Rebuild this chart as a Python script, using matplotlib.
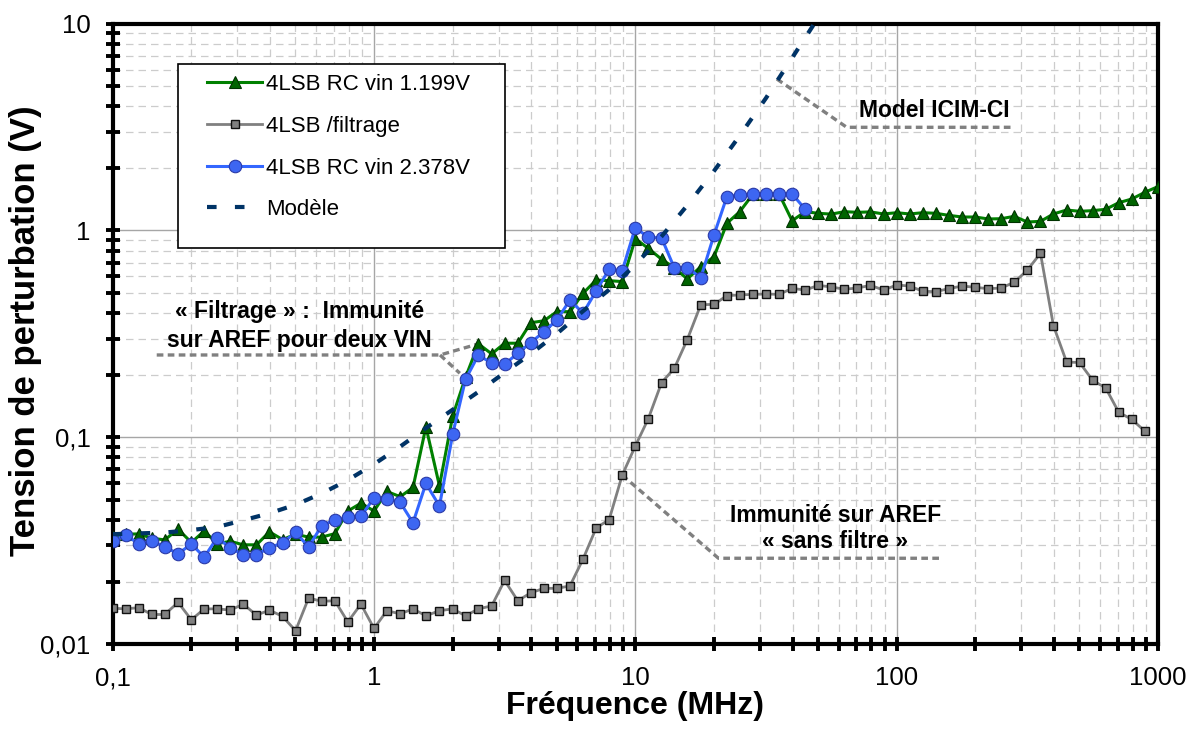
import numpy as np
import matplotlib
matplotlib.use("Agg")
import matplotlib.pyplot as plt
from matplotlib.patches import Rectangle
from matplotlib.ticker import NullFormatter, LogLocator

plt.rcParams['font.family'] = ['Liberation Sans', 'DejaVu Sans']

# test frequencies (MHz), ~12 % steps
freq = [0.1, 0.112, 0.126, 0.141, 0.158, 0.178, 0.2, 0.224, 0.251, 0.282,
        0.316, 0.355, 0.398, 0.447, 0.501, 0.562, 0.631, 0.708, 0.794, 0.891,
        1.0, 1.12, 1.26, 1.41, 1.58, 1.78, 2.0, 2.24, 2.51, 2.82,
        3.16, 3.55, 3.98, 4.47, 5.01, 5.62, 6.31, 7.08, 7.94, 8.91,
        10.0, 11.2, 12.6, 14.1, 15.8, 17.8, 20.0, 22.4, 25.1, 28.2,
        31.6, 35.5, 39.8, 44.7, 50.1, 56.2, 63.1, 70.8, 79.4, 89.1,
        100.0, 112, 126, 141, 158, 178, 200, 224, 251, 282,
        316, 355, 398, 447, 501, 562, 631, 708, 794, 891, 1000]

rc_1199 = [0.033, 0.034, 0.0341, 0.0325, 0.0319, 0.0359, 0.031, 0.0352, 0.0306, 0.0314,
           0.0302, 0.0302, 0.0349, 0.032, 0.034, 0.0329, 0.0329, 0.0342, 0.044, 0.048,
           0.044, 0.0547, 0.0516, 0.0572, 0.1124, 0.0582, 0.1267, 0.195, 0.283, 0.253,
           0.285, 0.285, 0.358, 0.366, 0.405, 0.405, 0.497, 0.576, 0.572, 0.566,
           0.913, 0.82, 0.726, 0.661, 0.583, 0.668, 0.747, 1.083, 1.233, 1.50,
           1.50, 1.50, 1.115, 1.233, 1.211, 1.20, 1.233, 1.224, 1.23, 1.202,
           1.219, 1.202, 1.219, 1.211, 1.184, 1.162, 1.162, 1.137, 1.14, 1.171,
           1.099, 1.107, 1.202, 1.256, 1.238, 1.247, 1.266, 1.363, 1.42, 1.53, 1.63]

sans_filtre = [0.0149, 0.0148, 0.0150, 0.0139, 0.0139, 0.0159, 0.0131, 0.0148, 0.0148, 0.0146,
               0.0156, 0.0138, 0.0146, 0.0136, 0.0116, 0.0167, 0.0161, 0.0162, 0.0128, 0.0156,
               0.0119, 0.0145, 0.0140, 0.0148, 0.0137, 0.0145, 0.0148, 0.0137, 0.0148, 0.0153,
               0.0203, 0.0162, 0.0177, 0.0186, 0.0186, 0.0191, 0.0258, 0.0364, 0.040, 0.0656,
               0.0908, 0.1226, 0.1837, 0.2156, 0.2965, 0.4377, 0.439, 0.484, 0.488, 0.491,
               0.493, 0.491, 0.525, 0.515, 0.543, 0.533, 0.520, 0.527, 0.543, 0.515,
               0.545, 0.539, 0.508, 0.506, 0.523, 0.539, 0.531, 0.523, 0.527, 0.562,
               0.642, 0.776, 0.3466, 0.231, 0.230, 0.1887, 0.173, 0.132, 0.122, 0.107]

rc_2378 = [0.0315, 0.0337, 0.0305, 0.0314, 0.0296, 0.0273, 0.0305, 0.0263, 0.0327, 0.0292,
           0.027, 0.0271, 0.0292, 0.0309, 0.0347, 0.0295, 0.0374, 0.0398, 0.041, 0.0414,
           0.051, 0.0504, 0.0484, 0.0386, 0.0598, 0.0465, 0.1035, 0.1907, 0.25, 0.228,
           0.2254, 0.255, 0.287, 0.324, 0.369, 0.461, 0.398, 0.51, 0.649, 0.639,
           1.032, 0.927, 0.92, 0.659, 0.661, 0.591, 0.951, 1.457, 1.485, 1.50,
           1.50, 1.502, 1.502, 1.266]

# model, every second frequency
modele = [0.034, 0.0343, 0.0346, 0.0356, 0.0368, 0.0397, 0.0429, 0.0472, 0.0535, 0.0621,
          0.0741, 0.0902, 0.1108, 0.136, 0.166, 0.2055, 0.253, 0.317, 0.4076, 0.5175,
          0.683, 0.936, 1.323, 1.939, 2.877, 4.363, 6.834, 10.7]
freq_modele = freq[::2][:len(modele)]

labels = ["4LSB RC vin 1.199V", "4LSB /filtrage", "4LSB RC vin 2.378V", "Modèle"]

# annotation leaders (MHz, V)
lead_filtrage_x = [0.1474, 1.789, 2.51]
lead_filtrage_y = [0.25, 0.25, 0.283]
lead_filtrage2_x = [1.789, 2.13]
lead_filtrage2_y = [0.25, 0.204]
lead_sans_x = [8.91, 20.8, 149.0]
lead_sans_y = [0.0656, 0.026, 0.026]
lead_model_x = [34.8, 64.4, 279.0]
lead_model_y = [5.40, 3.155, 3.155]

fig = plt.figure(figsize=(11.9, 7.29), dpi=100)
ax = fig.add_axes([0.0947, 0.1165, 0.8784, 0.851])

ax.plot(freq[:len(rc_1199)], rc_1199, color='#008000', lw=2.2, marker='^', ms=8.5,
        mfc='#006400', mec='#003300', mew=0.8, label=labels[0], zorder=5)
ax.plot(freq[:len(sans_filtre)], sans_filtre, color='#808080', lw=2.0, marker='s', ms=5.5,
        mfc='#808080', mec='#111111', mew=1.0, label=labels[1], zorder=5)
ax.plot(freq[:len(rc_2378)], rc_2378, color='#3366ff', lw=2.2, marker='o', ms=9,
        mfc='#3d66f2', mec='#2a3aa8', mew=0.8, label=labels[2], zorder=6)
ax.plot(freq_modele, modele, color='#003366', lw=3.0, ls=(0, (2.3, 4.4)),
        label=labels[3], zorder=7)

lead = dict(color='#808080', lw=2.4, ls=(0, (2.0, 1.3)), zorder=4)
ax.plot(lead_filtrage_x, lead_filtrage_y, **lead)
ax.plot(lead_filtrage2_x, lead_filtrage2_y, **lead)
ax.plot(lead_sans_x, lead_sans_y, **lead)
ax.plot(lead_model_x, lead_model_y, **lead)

tb = dict(fontsize=16.5, fontweight='bold', zorder=8)
ax.text(0.52, 0.376, "« Filtrage » :  Immunité", ha='center', va='baseline', **tb)
ax.text(0.52, 0.274, "sur AREF pour deux VIN", ha='center', va='baseline', **tb)
ax.text(58.3, 0.039, "Immunité sur AREF", ha='center', va='baseline', **tb)
ax.text(58.3, 0.02905, "« sans filtre »", ha='center', va='baseline', **tb)
ax.text(71.9, 3.53, "Model ICIM-CI", ha='left', va='baseline', **tb)

ax.set_xscale('log')
ax.set_yscale('log')
ax.set_xlim(0.1, 1000)
ax.set_ylim(0.01, 10)
ax.set_xticks([0.1, 1, 10, 100, 1000], ["0,1", "1", "10", "100", "1000"])
ax.set_yticks([0.01, 0.1, 1, 10], ["0,01", "0,1", "1", "10"])
ax.xaxis.set_minor_locator(LogLocator(base=10, subs=np.arange(2, 10)))
ax.yaxis.set_minor_locator(LogLocator(base=10, subs=np.arange(2, 10)))
ax.xaxis.set_minor_formatter(NullFormatter())
ax.yaxis.set_minor_formatter(NullFormatter())
ax.tick_params(which='both', direction='inout', length=10, width=2.8, color='black',
               top=False, right=False, pad=11, labelsize=18.5)

ax.grid(which='major', color='#a6a6a6', lw=1.0, ls='-')
ax.grid(which='minor', color='#cccccc', lw=0.9, ls=(0, (6, 4)))
ax.set_axisbelow(True)
for s in ax.spines.values():
    s.set_linewidth(3)
    s.set_color('black')

ax.set_xlabel("Fréquence (MHz)", fontsize=23, fontweight='bold')
ax.xaxis.set_label_coords(0.5, -0.076)
ax.set_ylabel("Tension de perturbation (V)", fontsize=25, fontweight='bold')
ax.yaxis.set_label_coords(-0.068, 0.505)

# legend box
ax.add_patch(Rectangle((0.0625, 0.6385), 0.3128, 0.2965, transform=ax.transAxes,
                       fc='white', ec='black', lw=1.2, zorder=9))
leg = ax.legend(loc='upper left', bbox_to_anchor=(0.0902, 0.9186), frameon=False,
                fontsize=16, borderpad=0, borderaxespad=0, labelspacing=0.93,
                handlelength=2.48, handletextpad=0.18)
leg.set_zorder(10)

fig.savefig("out.png", dpi=100)
